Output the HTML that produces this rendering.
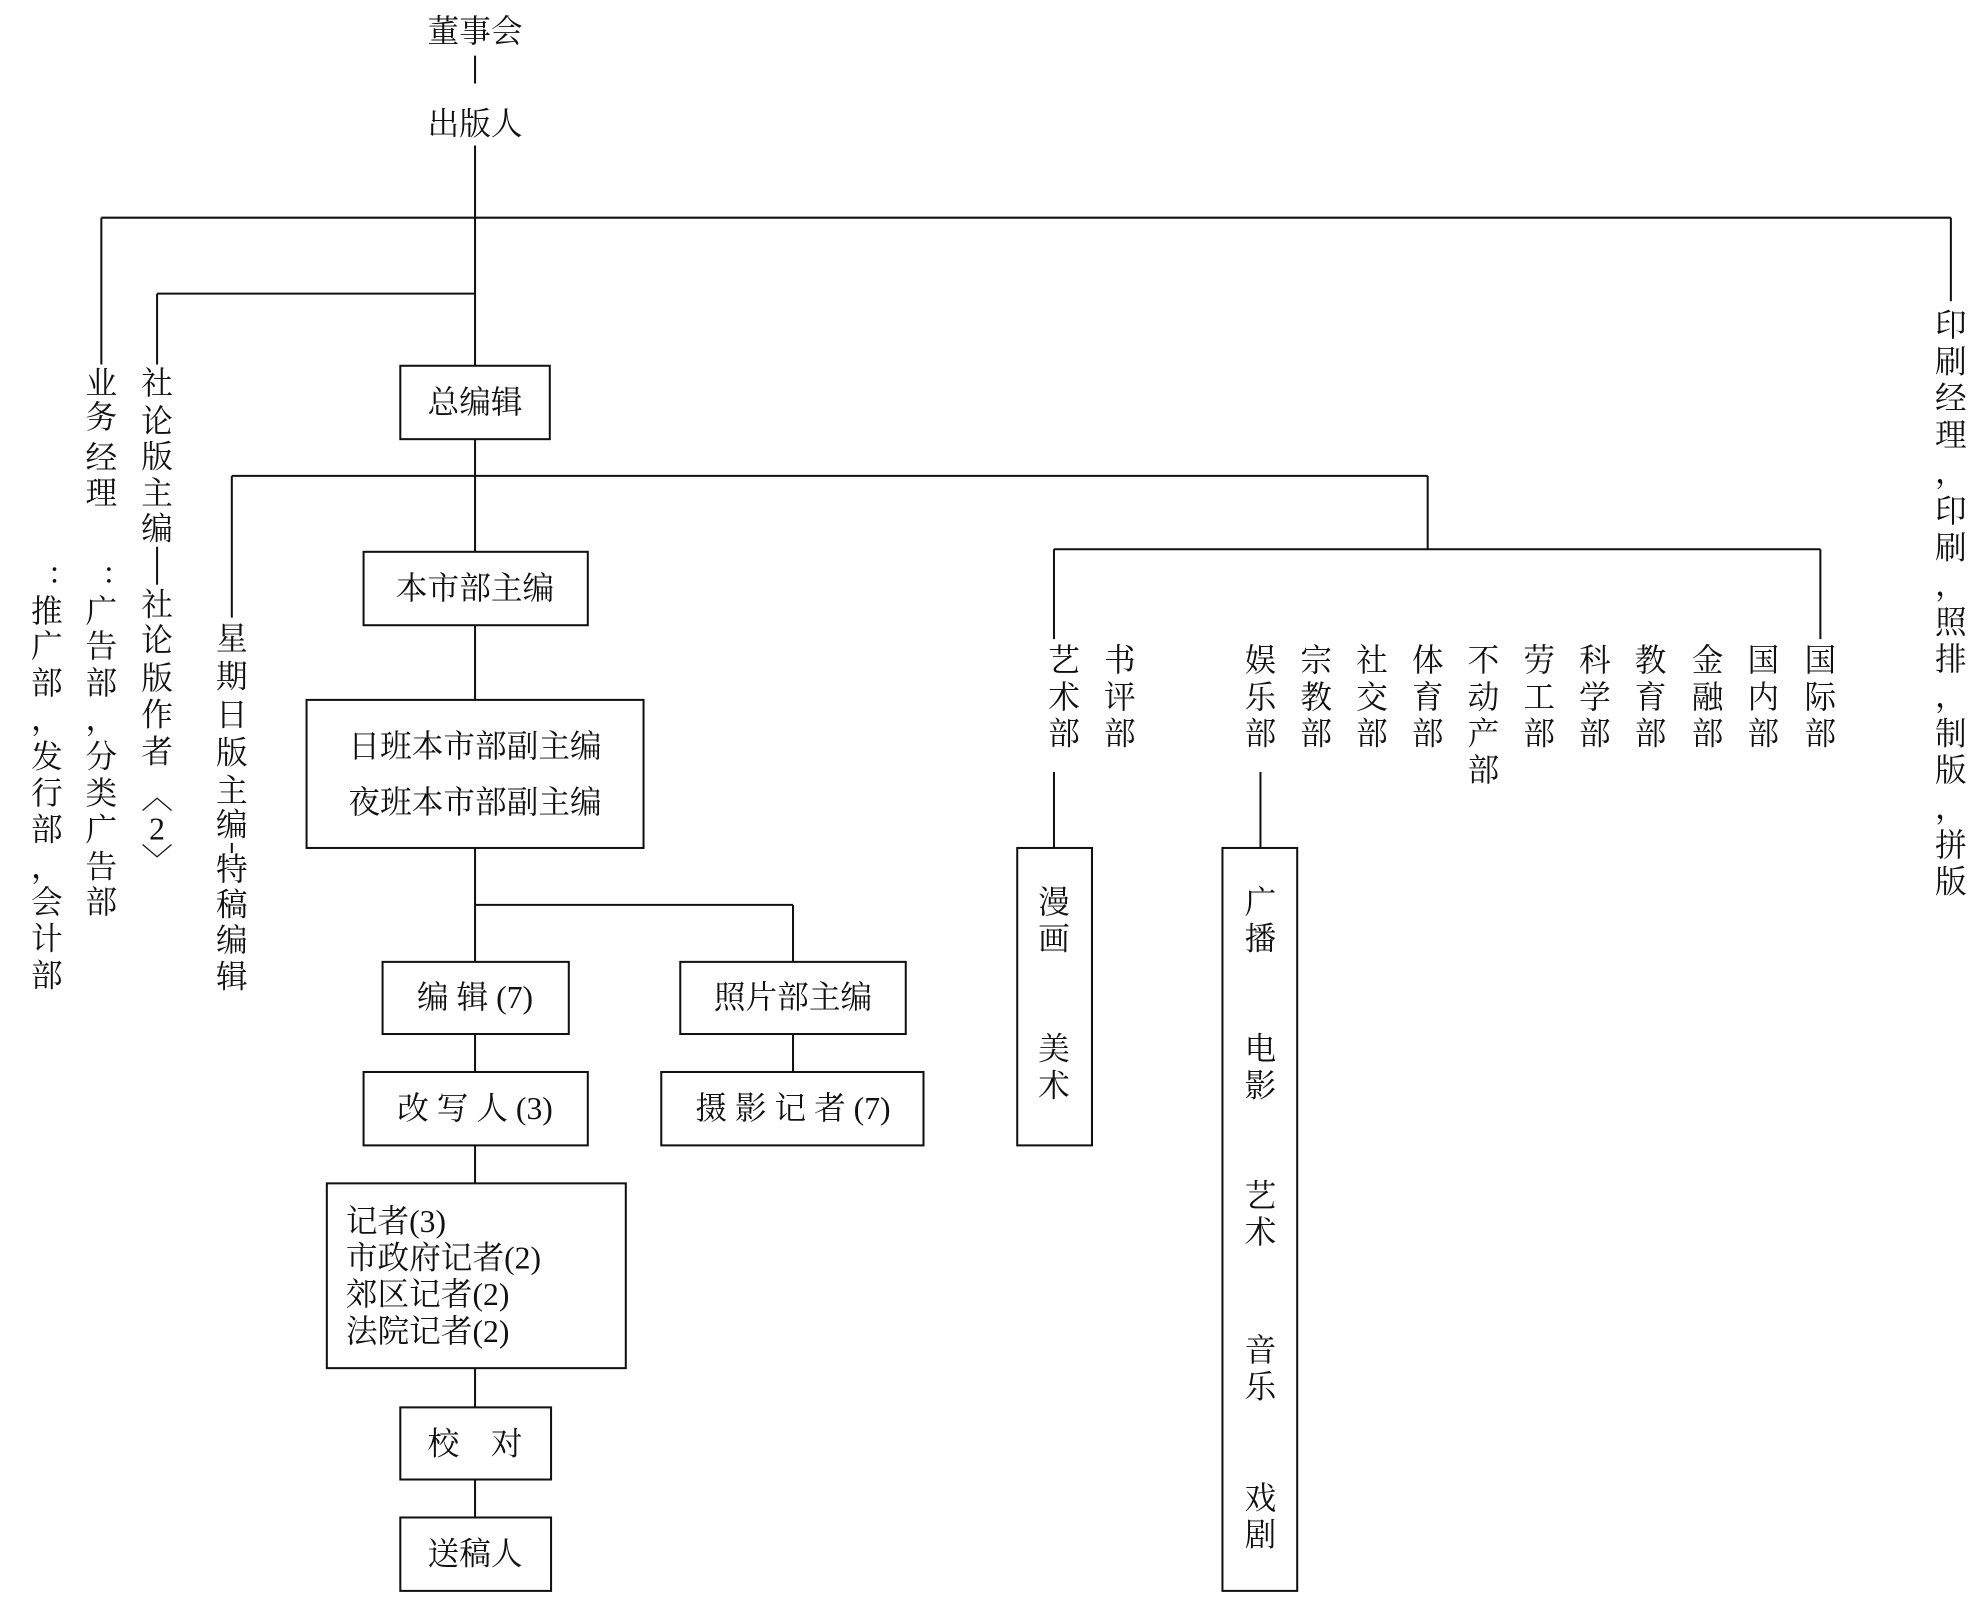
<!DOCTYPE html>
<html><head><meta charset="utf-8"><style>
html,body{margin:0;padding:0;background:#fff;}
svg{display:block;}
text{font-family:"Liberation Serif","Noto Serif CJK SC","Noto Sans CJK SC",serif;font-size:25px;fill:#111;text-anchor:middle;dominant-baseline:central;}
line,rect{stroke:#111;stroke-width:1.6;fill:none;}
</style></head><body>
<svg width="1980" height="1620" viewBox="0 0 1563 1280" preserveAspectRatio="none">
<rect x="0" y="0" width="1563" height="1280" style="fill:#fff;stroke:none"/>
<text x="375" y="25">董事会</text>
<line x1="375" y1="44" x2="375" y2="66"/>
<text x="375" y="98">出版人</text>
<line x1="375" y1="115" x2="375" y2="289"/>
<line x1="80" y1="172" x2="1540" y2="172"/>
<line x1="80" y1="172" x2="80" y2="288"/>
<line x1="1540" y1="172" x2="1540" y2="238"/>
<line x1="124" y1="232" x2="375" y2="232"/>
<line x1="124" y1="232" x2="124" y2="288"/>
<rect x="316" y="289" width="118" height="58"/>
<text x="375" y="318">总编辑</text>
<line x1="375" y1="347" x2="375" y2="436"/>
<line x1="183" y1="376" x2="1127" y2="376"/>
<line x1="183" y1="376" x2="183" y2="488"/>
<line x1="1127" y1="376" x2="1127" y2="434"/>
<line x1="832" y1="434" x2="1437" y2="434"/>
<line x1="832" y1="434" x2="832" y2="505"/>
<line x1="1437" y1="434" x2="1437" y2="505"/>
<rect x="287" y="436" width="177" height="58"/>
<text x="375" y="465">本市部主编</text>
<line x1="375" y1="494" x2="375" y2="553"/>
<rect x="242" y="553" width="266" height="117"/>
<text x="375" y="590">日班本市部副主编</text>
<text x="375" y="634">夜班本市部副主编</text>
<line x1="375" y1="670" x2="375" y2="760"/>
<line x1="375" y1="715" x2="626" y2="715"/>
<line x1="626" y1="715" x2="626" y2="760"/>
<rect x="302" y="760" width="147" height="57"/>
<text x="375" y="788">编 辑 (7)</text>
<rect x="537" y="760" width="178" height="57"/>
<text x="626" y="788">照片部主编</text>
<line x1="375" y1="817" x2="375" y2="847"/>
<line x1="626" y1="817" x2="626" y2="847"/>
<rect x="287" y="847" width="177" height="58"/>
<text x="375" y="876">改 写 人 (3)</text>
<rect x="522" y="847" width="207" height="58"/>
<text x="626" y="876">摄 影 记 者 (7)</text>
<line x1="375" y1="905" x2="375" y2="935"/>
<rect x="258" y="935" width="236" height="146"/>
<text x="273" y="965" style="text-anchor:start">记者(3)</text>
<text x="273" y="994" style="text-anchor:start">市政府记者(2)</text>
<text x="273" y="1023" style="text-anchor:start">郊区记者(2)</text>
<text x="273" y="1052" style="text-anchor:start">法院记者(2)</text>
<line x1="375" y1="1081" x2="375" y2="1112"/>
<rect x="316" y="1112" width="119" height="57"/>
<text x="375" y="1141">校　对</text>
<line x1="375" y1="1169" x2="375" y2="1199"/>
<rect x="316" y="1199" width="119" height="58"/>
<text x="375" y="1228">送稿人</text>
<line x1="832" y1="610" x2="832" y2="670"/>
<rect x="803" y="670" width="59" height="235"/>
<text x="832" y="713">漫</text><text x="832" y="742">画</text>
<text x="832" y="829">美</text><text x="832" y="858">术</text>
<line x1="995" y1="610" x2="995" y2="670"/>
<rect x="965" y="670" width="59" height="587"/>
<text x="995" y="713">广</text><text x="995" y="742">播</text>
<text x="995" y="829">电</text><text x="995" y="858">影</text>
<text x="995" y="945">艺</text><text x="995" y="974">术</text>
<text x="995" y="1067">音</text><text x="995" y="1096">乐</text>
<text x="995" y="1184">戏</text><text x="995" y="1213">剧</text>
<!-- department columns -->
<g>
<text x="840" y="522">艺</text><text x="840" y="551">术</text><text x="840" y="580">部</text>
<text x="884" y="522">书</text><text x="884" y="551">评</text><text x="884" y="580">部</text>
<text x="995" y="522">娱</text><text x="995" y="551">乐</text><text x="995" y="580">部</text>
<text x="1039" y="522">宗</text><text x="1039" y="551">教</text><text x="1039" y="580">部</text>
<text x="1083" y="522">社</text><text x="1083" y="551">交</text><text x="1083" y="580">部</text>
<text x="1127" y="522">体</text><text x="1127" y="551">育</text><text x="1127" y="580">部</text>
<text x="1171" y="522">不</text><text x="1171" y="551">动</text><text x="1171" y="580">产</text><text x="1171" y="609">部</text>
<text x="1215" y="522">劳</text><text x="1215" y="551">工</text><text x="1215" y="580">部</text>
<text x="1259" y="522">科</text><text x="1259" y="551">学</text><text x="1259" y="580">部</text>
<text x="1303" y="522">教</text><text x="1303" y="551">育</text><text x="1303" y="580">部</text>
<text x="1348" y="522">金</text><text x="1348" y="551">融</text><text x="1348" y="580">部</text>
<text x="1392" y="522">国</text><text x="1392" y="551">内</text><text x="1392" y="580">部</text>
<text x="1437" y="522">国</text><text x="1437" y="551">际</text><text x="1437" y="580">部</text>
</g>
<!-- left verticals -->
<text x="80" y="303">业</text><text x="80" y="330">务</text><text x="80" y="362">经</text><text x="80" y="390">理</text>
<text x="124" y="303">社</text><text x="124" y="333">论</text><text x="124" y="361">版</text><text x="124" y="390">主</text><text x="124" y="418">编</text>
<line x1="124" y1="432" x2="124" y2="462"/>
<text x="124" y="478">社</text><text x="124" y="506">论</text><text x="124" y="536">版</text><text x="124" y="565">作</text><text x="124" y="594">者</text>
<text x="124" y="630">︿</text><text x="124" y="655">2</text><text x="124" y="680">﹀</text>
<text x="183" y="505">星</text><text x="183" y="535">期</text><text x="183" y="565">日</text><text x="183" y="595">版</text><text x="183" y="625">主</text><text x="183" y="652">编</text>
<line x1="183" y1="666" x2="183" y2="674"/>
<text x="183" y="687">特</text><text x="183" y="715">稿</text><text x="183" y="743">编</text><text x="183" y="772">辑</text>
<text x="86" y="452">:</text>
<text x="80" y="483">广</text><text x="80" y="511">告</text><text x="80" y="540">部</text><text x="80" y="568">，</text><text x="80" y="598">分</text><text x="80" y="627">类</text><text x="80" y="656">广</text><text x="80" y="685">告</text><text x="80" y="713">部</text>
<text x="43" y="452">:</text>
<text x="37" y="483">推</text><text x="37" y="511">广</text><text x="37" y="540">部</text><text x="37" y="568">，</text><text x="37" y="598">发</text><text x="37" y="627">行</text><text x="37" y="656">部</text><text x="37" y="685">，</text><text x="37" y="713">会</text><text x="37" y="742">计</text><text x="37" y="771">部</text>
<!-- right vertical -->
<text x="1540" y="257">印</text><text x="1540" y="286">刷</text><text x="1540" y="315">经</text><text x="1540" y="344">理</text><text x="1540" y="373">，</text><text x="1540" y="404">印</text><text x="1540" y="433">刷</text><text x="1540" y="462">，</text><text x="1540" y="492">照</text><text x="1540" y="521">排</text><text x="1540" y="550">，</text><text x="1540" y="580">制</text><text x="1540" y="609">版</text><text x="1540" y="638">，</text><text x="1540" y="668">拼</text><text x="1540" y="697">版</text>
</svg>
</body></html>
